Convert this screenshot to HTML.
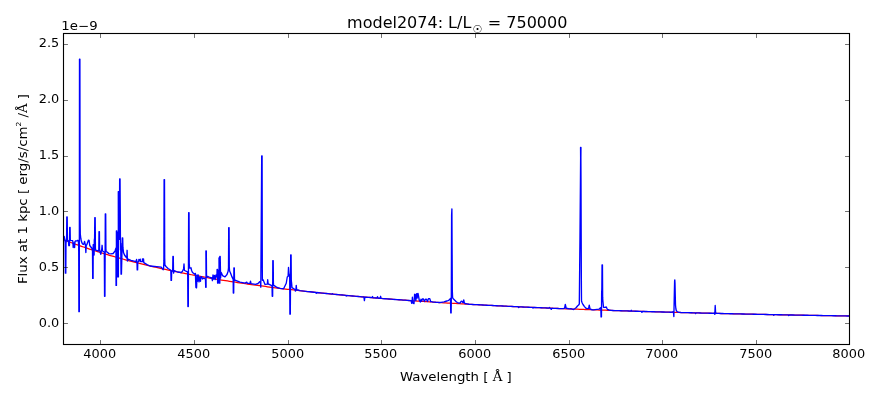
<!DOCTYPE html>
<html><head><meta charset="utf-8"><style>html,body{margin:0;padding:0;background:#fff;width:880px;height:400px;overflow:hidden}svg{display:block;will-change:transform}</style></head>
<body><svg width="880" height="400" viewBox="0 0 880 400">
<rect x="0" y="0" width="880" height="400" fill="#fff"/>
<g clip-path="url(#clip)"><path d="M63.50 239.76 L65.50 240.53 L67.50 241.28 L69.50 242.03 L71.50 242.77 L73.50 243.50 L75.50 244.22 L77.50 244.94 L79.50 245.64 L81.50 246.34 L83.50 247.02 L85.50 247.70 L87.50 248.38 L89.50 249.04 L91.50 249.70 L93.50 250.35 L95.50 250.99 L97.50 251.62 L99.50 252.25 L101.50 252.87 L103.50 253.48 L105.50 254.09 L107.50 254.69 L109.50 255.28 L111.50 255.87 L113.50 256.45 L115.50 257.02 L117.50 257.59 L119.50 258.15 L121.50 258.70 L123.50 259.25 L125.50 259.79 L127.50 260.33 L129.50 260.86 L131.50 261.38 L133.50 261.90 L135.50 262.41 L137.50 262.92 L139.50 263.42 L141.50 263.92 L143.50 264.41 L145.50 264.89 L147.50 265.37 L149.50 265.85 L151.50 266.32 L153.50 266.78 L155.50 267.24 L157.50 267.70 L159.50 268.15 L161.50 268.59 L163.50 269.03 L165.50 269.47 L167.50 269.90 L169.50 270.33 L171.50 270.75 L173.50 271.17 L175.50 271.59 L177.50 271.99 L179.50 272.40 L181.50 272.80 L183.50 273.20 L185.50 273.59 L187.50 273.98 L189.50 274.37 L191.50 274.75 L193.50 275.13 L195.50 275.50 L197.50 275.87 L199.50 276.23 L201.50 276.60 L203.50 276.96 L205.50 277.31 L207.50 277.66 L209.50 278.01 L211.50 278.36 L213.50 278.70 L215.50 279.03 L217.50 279.37 L219.50 279.70 L221.50 280.03 L223.50 280.35 L225.50 280.67 L227.50 280.99 L229.50 281.31 L231.50 281.62 L233.50 281.93 L235.50 282.24 L237.50 282.54 L239.50 282.84 L241.50 283.14 L243.50 283.43 L245.50 283.72 L247.50 284.01 L249.50 284.30 L251.50 284.58 L253.50 284.86 L255.50 285.14 L257.50 285.42 L259.50 285.69 L261.50 285.96 L263.50 286.23 L265.50 286.49 L267.50 286.76 L269.50 287.02 L271.50 287.28 L273.50 287.53 L275.50 287.78 L277.50 288.04 L279.50 288.28 L281.50 288.53 L283.50 288.77 L285.50 289.02 L287.50 289.26 L289.50 289.49 L291.50 289.73 L293.50 289.96 L295.50 290.19 L297.50 290.42 L299.50 290.65 L301.50 290.87 L303.50 291.10 L305.50 291.32 L307.50 291.54 L309.50 291.75 L311.50 291.97 L313.50 292.18 L315.50 292.39 L317.50 292.60 L319.50 292.81 L321.50 293.02 L323.50 293.22 L325.50 293.42 L327.50 293.62 L329.50 293.82 L331.50 294.02 L333.50 294.21 L335.50 294.41 L337.50 294.60 L339.50 294.79 L341.50 294.98 L343.50 295.16 L345.50 295.35 L347.50 295.53 L349.50 295.71 L351.50 295.89 L353.50 296.07 L355.50 296.25 L357.50 296.43 L359.50 296.60 L361.50 296.77 L363.50 296.94 L365.50 297.11 L367.50 297.28 L369.50 297.45 L371.50 297.62 L373.50 297.78 L375.50 297.94 L377.50 298.11 L379.50 298.27 L381.50 298.42 L383.50 298.58 L385.50 298.74 L387.50 298.89 L389.50 299.05 L391.50 299.20 L393.50 299.35 L395.50 299.50 L397.50 299.65 L399.50 299.80 L401.50 299.94 L403.50 300.09 L405.50 300.23 L407.50 300.38 L409.50 300.52 L411.50 300.66 L413.50 300.80 L415.50 300.94 L417.50 301.07 L419.50 301.21 L421.50 301.34 L423.50 301.48 L425.50 301.61 L427.50 301.74 L429.50 301.87 L431.50 302.00 L433.50 302.13 L435.50 302.26 L437.50 302.39 L439.50 302.51 L441.50 302.64 L443.50 302.76 L445.50 302.88 L447.50 303.01 L449.50 303.13 L451.50 303.25 L453.50 303.36 L455.50 303.48 L457.50 303.60 L459.50 303.72 L461.50 303.83 L463.50 303.95 L465.50 304.06 L467.50 304.17 L469.50 304.28 L471.50 304.40 L473.50 304.51 L475.50 304.61 L477.50 304.72 L479.50 304.83 L481.50 304.94 L483.50 305.04 L485.50 305.15 L487.50 305.25 L489.50 305.36 L491.50 305.46 L493.50 305.56 L495.50 305.66 L497.50 305.76 L499.50 305.86 L501.50 305.96 L503.50 306.06 L505.50 306.16 L507.50 306.26 L509.50 306.35 L511.50 306.45 L513.50 306.54 L515.50 306.64 L517.50 306.73 L519.50 306.82 L521.50 306.91 L523.50 307.01 L525.50 307.10 L527.50 307.19 L529.50 307.28 L531.50 307.36 L533.50 307.45 L535.50 307.54 L537.50 307.63 L539.50 307.71 L541.50 307.80 L543.50 307.88 L545.50 307.97 L547.50 308.05 L549.50 308.13 L551.50 308.22 L553.50 308.30 L555.50 308.38 L557.50 308.46 L559.50 308.54 L561.50 308.62 L563.50 308.70 L565.50 308.78 L567.50 308.86 L569.50 308.93 L571.50 309.01 L573.50 309.09 L575.50 309.16 L577.50 309.24 L579.50 309.31 L581.50 309.39 L583.50 309.46 L585.50 309.54 L587.50 309.61 L589.50 309.68 L591.50 309.75 L593.50 309.82 L595.50 309.89 L597.50 309.96 L599.50 310.03 L601.50 310.10 L603.50 310.17 L605.50 310.24 L607.50 310.31 L609.50 310.38 L611.50 310.44 L613.50 310.51 L615.50 310.58 L617.50 310.64 L619.50 310.71 L621.50 310.77 L623.50 310.84 L625.50 310.90 L627.50 310.96 L629.50 311.03 L631.50 311.09 L633.50 311.15 L635.50 311.21 L637.50 311.27 L639.50 311.33 L641.50 311.40 L643.50 311.46 L645.50 311.52 L647.50 311.57 L649.50 311.63 L651.50 311.69 L653.50 311.75 L655.50 311.81 L657.50 311.87 L659.50 311.92 L661.50 311.98 L663.50 312.04 L665.50 312.09 L667.50 312.15 L669.50 312.20 L671.50 312.26 L673.50 312.31 L675.50 312.37 L677.50 312.42 L679.50 312.47 L681.50 312.53 L683.50 312.58 L685.50 312.63 L687.50 312.68 L689.50 312.74 L691.50 312.79 L693.50 312.84 L695.50 312.89 L697.50 312.94 L699.50 312.99 L701.50 313.04 L703.50 313.09 L705.50 313.14 L707.50 313.19 L709.50 313.24 L711.50 313.28 L713.50 313.33 L715.50 313.38 L717.50 313.43 L719.50 313.47 L721.50 313.52 L723.50 313.57 L725.50 313.61 L727.50 313.66 L729.50 313.70 L731.50 313.75 L733.50 313.80 L735.50 313.84 L737.50 313.88 L739.50 313.93 L741.50 313.97 L743.50 314.02 L745.50 314.06 L747.50 314.10 L749.50 314.15 L751.50 314.19 L753.50 314.23 L755.50 314.27 L757.50 314.31 L759.50 314.36 L761.50 314.40 L763.50 314.44 L765.50 314.48 L767.50 314.52 L769.50 314.56 L771.50 314.60 L773.50 314.64 L775.50 314.68 L777.50 314.72 L779.50 314.76 L781.50 314.80 L783.50 314.84 L785.50 314.87 L787.50 314.91 L789.50 314.95 L791.50 314.99 L793.50 315.03 L795.50 315.06 L797.50 315.10 L799.50 315.14 L801.50 315.17 L803.50 315.21 L805.50 315.25 L807.50 315.28 L809.50 315.32 L811.50 315.35 L813.50 315.39 L815.50 315.43 L817.50 315.46 L819.50 315.50 L821.50 315.53 L823.50 315.56 L825.50 315.60 L827.50 315.63 L829.50 315.67 L831.50 315.70 L833.50 315.73 L835.50 315.77 L837.50 315.80 L839.50 315.83 L841.50 315.86 L843.50 315.90 L845.50 315.93 L847.50 315.96 L849.50 315.99" fill="none" stroke="#f00" stroke-width="1.25" stroke-linejoin="round"/><path d="M63.50 240.20 L64.20 236.50 L64.90 240.20 L65.20 242.88 L65.40 273.15 L65.80 273.15 L66.00 243.62 L66.30 241.00 L66.60 239.03 L66.80 217.00 L67.20 217.00 L67.40 239.03 L67.60 241.00 L68.40 240.80 L68.80 245.60 L69.40 245.60 L69.50 244.10 L69.70 227.50 L70.10 227.50 L70.30 239.32 L70.40 240.40 L72.50 240.60 L72.80 241.15 L73.20 247.50 L74.00 243.00 L74.60 247.50 L75.00 241.52 L75.50 241.00 L77.00 240.80 L77.90 240.30 L78.40 241.50 L78.70 247.16 L78.90 311.65 L79.30 311.65 L79.50 59.10 L79.90 59.10 L80.10 219.96 L80.30 234.00 L80.80 238.50 L81.40 241.30 L82.10 243.20 L82.60 244.00 L83.80 244.40 L84.55 241.40 L85.20 244.00 L85.45 244.68 L85.85 252.50 L86.25 245.32 L86.80 244.70 L88.50 240.10 L89.10 240.30 L89.75 245.50 L92.00 248.50 L92.50 250.94 L92.70 278.40 L93.10 278.40 L93.20 244.60 L93.60 244.60 L93.70 255.00 L94.10 255.00 L94.30 240.00 L94.60 238.16 L94.80 217.60 L95.20 217.60 L95.40 247.54 L95.60 250.20 L98.50 251.00 L98.80 249.40 L99.00 231.60 L99.40 231.60 L99.60 249.86 L99.90 251.50 L100.80 254.40 L101.50 250.00 L101.70 249.62 L102.10 245.30 L102.50 251.00 L103.40 251.50 L104.20 252.00 L104.35 255.59 L104.55 296.30 L104.95 296.30 L105.30 213.85 L105.70 213.85 L105.90 248.53 L106.10 251.60 L106.70 251.80 L109.00 253.60 L111.00 253.90 L113.10 253.50 L114.50 251.80 L115.20 250.50 L116.00 248.00 L116.05 285.40 L116.45 285.40 L116.40 230.90 L116.80 230.90 L117.00 276.90 L117.40 276.90 L117.50 232.60 L117.90 232.60 L118.00 276.90 L118.40 276.90 L118.30 191.60 L118.70 191.60 L119.00 239.40 L119.40 239.40 L119.65 178.85 L120.05 178.85 L120.50 250.00 L120.70 243.30 L121.05 274.15 L121.45 274.15 L122.30 237.80 L122.70 237.80 L122.90 247.14 L123.00 248.00 L123.50 252.50 L124.50 255.00 L126.00 257.00 L126.80 258.00 L127.10 250.30 L127.40 261.10 L128.10 259.20 L131.00 260.30 L136.00 261.70 L136.60 259.50 L137.00 262.00 L137.20 269.90 L137.60 269.90 L137.80 262.00 L138.70 261.50 L138.90 259.40 L139.60 260.80 L140.20 259.20 L140.50 261.50 L142.30 261.70 L142.50 258.90 L143.50 258.90 L143.80 262.60 L147.00 264.60 L150.00 266.00 L161.25 267.20 L163.10 269.70 L163.60 268.00 L163.90 260.88 L164.10 179.60 L164.50 179.60 L164.70 258.12 L164.90 265.00 L166.00 266.50 L168.00 268.50 L170.60 270.00 L170.85 270.88 L171.05 280.40 L171.45 280.40 L171.65 271.80 L172.20 271.00 L172.70 269.79 L172.90 256.50 L173.30 256.50 L173.50 271.72 L173.60 273.10 L174.20 270.60 L177.50 272.00 L181.25 272.50 L182.50 271.25 L183.50 269.00 L183.60 268.60 L184.00 264.00 L184.40 269.98 L184.60 270.50 L187.50 271.90 L187.70 274.72 L187.90 306.50 L188.30 306.50 L188.65 212.70 L189.05 212.70 L189.25 263.53 L189.60 268.00 L191.00 267.80 L191.60 270.50 L192.50 272.50 L195.00 274.40 L195.40 273.40 L195.90 287.50 L196.50 287.90 L196.60 286.87 L197.00 275.00 L197.50 281.25 L198.20 275.00 L199.00 281.90 L199.80 277.00 L200.50 281.25 L200.90 276.97 L201.50 276.60 L202.50 279.00 L203.50 278.00 L205.30 279.00 L205.50 279.71 L205.70 287.30 L206.10 287.30 L205.90 250.90 L206.30 250.90 L206.50 274.86 L206.70 277.00 L208.00 276.50 L210.00 277.50 L211.90 278.00 L212.40 280.60 L213.00 275.00 L213.80 279.00 L214.50 275.50 L215.30 279.50 L216.00 275.00 L216.90 277.00 L217.10 269.35 L217.50 269.35 L217.60 283.15 L218.00 283.15 L218.20 270.60 L218.60 270.60 L218.70 282.40 L219.10 282.40 L219.00 257.80 L219.40 257.80 L219.40 283.15 L219.80 283.15 L219.80 256.50 L220.20 256.50 L220.60 278.00 L221.00 272.94 L221.25 272.50 L222.50 275.60 L225.00 276.90 L227.00 274.50 L228.10 271.25 L228.50 267.72 L228.70 227.70 L229.10 227.70 L229.30 267.49 L229.60 271.00 L230.50 273.00 L232.00 276.90 L233.20 279.40 L233.30 293.00 L233.70 293.00 L233.90 267.80 L234.30 267.80 L234.50 278.98 L234.60 280.00 L236.25 280.60 L240.00 282.20 L245.00 283.10 L246.75 282.20 L247.50 283.30 L250.00 283.40 L250.50 281.25 L251.00 283.60 L255.50 284.40 L258.00 283.50 L259.90 281.60 L260.40 282.05 L260.80 287.20 L261.70 155.85 L262.10 155.85 L262.30 270.30 L262.40 280.30 L263.10 279.80 L263.60 281.00 L265.00 284.40 L267.30 284.20 L267.70 279.70 L268.10 283.66 L268.20 284.00 L269.25 284.40 L271.75 285.60 L272.05 286.50 L272.25 296.20 L272.65 296.20 L272.80 260.60 L273.20 260.60 L273.40 283.18 L273.60 285.20 L274.25 285.60 L277.00 287.50 L280.00 288.40 L283.60 288.75 L286.25 283.25 L287.25 277.00 L288.10 276.24 L288.50 267.50 L288.90 273.48 L289.10 274.00 L289.70 277.26 L289.90 314.15 L290.30 314.15 L290.70 254.85 L291.10 254.85 L291.30 280.70 L291.60 283.00 L292.00 287.60 L295.00 289.50 L295.40 291.10 L295.85 290.64 L296.25 285.40 L296.65 289.45 L296.80 289.80 L298.00 290.00 L299.97 290.70 L301.94 290.92 L303.92 291.14 L305.89 291.36 L307.86 291.58 L309.83 291.79 L311.81 292.00 L313.78 292.21 L315.75 292.42 L316.25 293.30 L316.75 292.52 L318.66 292.72 L320.56 292.92 L322.47 293.11 L324.38 293.31 L326.28 293.50 L328.19 293.69 L330.09 293.88 L332.00 294.07 L332.50 293.60 L333.00 294.16 L334.82 294.34 L336.64 294.52 L338.46 294.69 L340.29 294.86 L342.11 295.03 L343.93 295.20 L345.75 295.37 L346.25 296.00 L346.75 295.46 L348.66 295.64 L350.56 295.81 L352.47 295.98 L354.37 296.15 L356.28 296.32 L358.18 296.49 L360.09 296.65 L361.99 296.82 L363.90 296.98 L364.40 300.60 L364.90 297.06 L366.67 297.21 L368.45 297.36 L370.23 297.51 L372.00 297.66 L372.50 296.50 L373.00 297.74 L374.33 297.85 L375.67 297.96 L377.00 298.06 L377.50 296.60 L378.00 298.15 L379.05 298.23 L380.10 298.31 L380.60 296.30 L381.10 298.39 L383.09 298.55 L385.09 298.71 L387.08 298.86 L389.07 299.01 L391.07 299.17 L393.06 299.32 L395.05 299.47 L397.05 299.62 L399.04 299.76 L401.03 299.91 L403.03 300.05 L405.02 300.20 L407.01 300.34 L409.01 300.48 L411.00 300.60 L411.75 303.30 L412.00 302.81 L412.40 297.20 L412.80 302.81 L413.30 303.30 L414.00 303.50 L414.60 294.30 L415.20 294.50 L415.40 294.99 L415.80 300.60 L416.70 293.60 L417.20 298.00 L417.60 293.77 L418.00 293.40 L418.50 296.00 L419.30 300.40 L420.30 302.00 L421.00 299.30 L421.70 301.20 L422.30 299.00 L423.50 299.00 L424.40 301.50 L425.50 299.20 L426.40 299.20 L427.50 301.50 L428.40 298.60 L429.80 298.60 L430.70 301.70 L431.50 301.60 L433.00 302.10 L434.50 302.20 L436.00 302.29 L437.50 302.30 L439.25 302.50 L441.00 302.30 L444.00 301.90 L446.00 301.25 L448.00 300.60 L449.50 299.75 L450.50 298.50 L450.75 312.90 L451.15 312.90 L451.30 300.00 L451.60 215.00 L451.90 208.90 L452.30 290.00 L452.60 297.50 L453.00 298.50 L454.50 300.00 L456.00 301.50 L457.30 302.50 L458.50 303.00 L460.00 303.10 L461.00 301.50 L462.00 301.25 L462.70 302.50 L463.20 302.50 L463.75 300.00 L464.30 302.70 L465.00 303.50 L467.00 303.80 L468.97 304.25 L470.94 304.36 L472.91 304.47 L474.88 304.58 L476.86 304.69 L478.83 304.79 L480.80 304.90 L482.77 305.00 L484.74 305.11 L486.71 305.21 L488.68 305.31 L490.65 305.42 L492.62 305.52 L494.60 305.62 L496.57 305.72 L498.54 305.82 L500.51 305.91 L502.48 306.01 L504.45 306.11 L506.42 306.20 L508.39 306.30 L510.37 306.39 L512.34 306.49 L514.31 306.58 L516.28 306.67 L518.25 306.76 L518.75 307.50 L519.25 306.81 L521.14 306.90 L523.04 306.98 L524.93 307.07 L526.82 307.16 L528.71 307.24 L530.61 307.33 L532.50 307.41 L533.00 308.10 L533.50 307.45 L535.41 307.54 L537.33 307.62 L539.24 307.70 L541.15 307.78 L543.06 307.87 L544.97 307.95 L546.89 308.03 L548.80 308.11 L549.40 307.50 L550.30 308.20 L551.25 309.40 L551.80 308.23 L553.75 308.31 L555.70 308.39 L557.65 308.47 L559.60 308.55 L561.55 308.62 L563.50 308.60 L564.60 308.20 L565.30 304.50 L566.20 308.25 L567.50 308.50 L569.25 308.93 L571.00 308.70 L572.25 309.04 L573.50 309.50 L575.00 308.50 L576.30 307.50 L577.50 306.00 L578.60 305.00 L579.30 304.00 L579.45 290.00 L579.65 270.00 L579.95 240.00 L580.20 210.00 L580.45 180.00 L580.62 158.00 L580.55 147.45 L580.95 147.45 L580.88 158.00 L581.00 180.00 L581.10 210.00 L581.20 240.00 L581.30 270.00 L581.42 290.00 L581.50 301.00 L582.20 303.00 L583.00 304.50 L584.50 306.60 L586.00 308.25 L587.50 308.70 L588.60 308.30 L589.25 305.25 L590.00 308.80 L591.00 309.50 L592.33 309.78 L593.67 309.83 L595.00 309.60 L599.00 309.20 L600.50 307.75 L600.85 308.53 L601.05 316.90 L601.45 316.90 L601.65 292.20 L601.80 290.00 L601.85 287.94 L602.05 264.85 L602.45 264.85 L602.65 297.14 L602.80 300.00 L603.50 307.30 L605.20 307.30 L606.25 306.90 L607.00 308.60 L607.50 309.40 L609.00 310.00 L610.98 310.43 L612.95 310.49 L614.93 310.56 L616.91 310.62 L618.89 310.69 L620.86 310.75 L622.84 310.81 L624.82 310.88 L626.80 310.94 L628.77 311.00 L630.75 311.06 L631.25 310.30 L631.75 311.10 L633.68 311.16 L635.61 311.22 L637.54 311.27 L639.47 311.33 L641.40 311.39 L641.90 312.30 L642.40 311.42 L644.34 311.48 L646.28 311.54 L648.22 311.60 L650.16 311.65 L652.10 311.71 L654.04 311.77 L655.98 311.82 L657.92 311.88 L659.86 311.93 L661.80 311.99 L663.74 312.04 L665.68 312.10 L667.62 312.15 L669.56 312.20 L671.50 312.20 L672.80 311.80 L673.45 312.18 L673.85 316.50 L674.10 305.00 L674.40 290.00 L674.62 281.00 L674.80 279.85 L675.00 283.00 L675.25 295.00 L675.50 305.00 L675.90 309.00 L676.40 310.80 L677.50 311.90 L679.00 312.40 L680.79 312.51 L682.58 312.55 L684.37 312.60 L686.16 312.65 L687.94 312.70 L689.73 312.74 L691.52 312.79 L693.31 312.83 L695.10 312.88 L695.60 313.60 L696.10 312.90 L698.04 312.95 L699.99 313.00 L701.93 313.05 L703.88 313.10 L705.82 313.15 L707.77 313.19 L709.71 313.24 L711.66 313.29 L713.60 313.33 L714.40 312.80 L714.80 314.40 L715.20 305.50 L715.60 312.22 L715.80 312.80 L716.50 313.40 L718.46 313.45 L720.41 313.50 L722.37 313.54 L724.33 313.59 L726.28 313.63 L728.24 313.68 L730.20 313.72 L732.16 313.76 L734.11 313.81 L736.07 313.85 L738.03 313.90 L739.98 313.94 L741.94 313.98 L743.90 314.02 L745.85 314.07 L747.81 314.11 L749.77 314.15 L751.72 314.19 L753.68 314.23 L755.64 314.28 L757.59 314.32 L759.55 314.36 L761.51 314.40 L763.47 314.44 L765.42 314.48 L767.38 314.52 L769.34 314.56 L771.29 314.60 L773.25 314.64 L773.75 315.40 L774.25 314.66 L776.00 314.69 L777.75 314.72 L779.50 314.76 L781.25 314.79 L783.00 314.83 L784.75 314.86 L786.50 314.89 L788.25 314.93 L788.75 315.50 L789.25 314.95 L791.25 314.98 L793.25 315.02 L795.25 315.06 L797.25 315.10 L799.25 315.13 L801.25 315.17 L803.25 315.21 L805.25 315.24 L807.25 315.28 L809.25 315.31 L811.25 315.35 L813.25 315.39 L815.25 315.42 L817.25 315.46 L819.25 315.49 L821.25 315.53 L823.25 315.56 L825.25 315.59 L827.25 315.63 L829.25 315.66 L831.25 315.70 L833.25 315.73 L835.25 315.76 L837.25 315.80 L839.25 315.83 L841.25 315.86 L843.25 315.89 L845.25 315.93 L847.25 315.96 L849.25 315.99 L850.00 316.00" fill="none" stroke="#00f" stroke-width="1.35" stroke-linejoin="round" stroke-linecap="square"/></g>
<defs><clipPath id="clip"><rect x="63.5" y="33.5" width="786.0" height="311.0"/></clipPath></defs>
<rect x="63.5" y="33.5" width="786.0" height="311.0" fill="none" stroke="#000" stroke-width="1.11"/>
<path d="M100.5 344.5v-4.44M100.5 33.5v4.44M194.5 344.5v-4.44M194.5 33.5v4.44M288.5 344.5v-4.44M288.5 33.5v4.44M381.5 344.5v-4.44M381.5 33.5v4.44M475.5 344.5v-4.44M475.5 33.5v4.44M569.5 344.5v-4.44M569.5 33.5v4.44M662.5 344.5v-4.44M662.5 33.5v4.44M756.5 344.5v-4.44M756.5 33.5v4.44M849.5 344.5v-4.44M849.5 33.5v4.44M63.5 323.5h4.44M849.5 323.5h-4.44M63.5 267.5h4.44M849.5 267.5h-4.44M63.5 211.5h4.44M849.5 211.5h-4.44M63.5 156.5h4.44M849.5 156.5h-4.44M63.5 100.5h4.44M849.5 100.5h-4.44M63.5 44.5h4.44M849.5 44.5h-4.44" stroke="#000" stroke-width="0.56" fill="none"/>
<g fill="#000">
<text transform="translate(99.7 358.1) scale(1 0.91)" text-anchor="middle" style="font-family:'DejaVu Sans',sans-serif;font-size:12.9px">4000</text>
<text transform="translate(193.7 358.1) scale(1 0.91)" text-anchor="middle" style="font-family:'DejaVu Sans',sans-serif;font-size:12.9px">4500</text>
<text transform="translate(287.7 358.1) scale(1 0.91)" text-anchor="middle" style="font-family:'DejaVu Sans',sans-serif;font-size:12.9px">5000</text>
<text transform="translate(380.7 358.1) scale(1 0.91)" text-anchor="middle" style="font-family:'DejaVu Sans',sans-serif;font-size:12.9px">5500</text>
<text transform="translate(474.7 358.1) scale(1 0.91)" text-anchor="middle" style="font-family:'DejaVu Sans',sans-serif;font-size:12.9px">6000</text>
<text transform="translate(568.7 358.1) scale(1 0.91)" text-anchor="middle" style="font-family:'DejaVu Sans',sans-serif;font-size:12.9px">6500</text>
<text transform="translate(661.7 358.1) scale(1 0.91)" text-anchor="middle" style="font-family:'DejaVu Sans',sans-serif;font-size:12.9px">7000</text>
<text transform="translate(755.7 358.1) scale(1 0.91)" text-anchor="middle" style="font-family:'DejaVu Sans',sans-serif;font-size:12.9px">7500</text>
<text transform="translate(848.7 358.1) scale(1 0.91)" text-anchor="middle" style="font-family:'DejaVu Sans',sans-serif;font-size:12.9px">8000</text>
<text transform="translate(59.2 326.8) scale(1 0.91)" text-anchor="end" style="font-family:'DejaVu Sans',sans-serif;font-size:12.9px">0.0</text>
<text transform="translate(59.2 271) scale(1 0.91)" text-anchor="end" style="font-family:'DejaVu Sans',sans-serif;font-size:12.9px">0.5</text>
<text transform="translate(59.2 215) scale(1 0.91)" text-anchor="end" style="font-family:'DejaVu Sans',sans-serif;font-size:12.9px">1.0</text>
<text transform="translate(59.2 159) scale(1 0.91)" text-anchor="end" style="font-family:'DejaVu Sans',sans-serif;font-size:12.9px">1.5</text>
<text transform="translate(59.2 103.1) scale(1 0.91)" text-anchor="end" style="font-family:'DejaVu Sans',sans-serif;font-size:12.9px">2.0</text>
<text transform="translate(59.2 47) scale(1 0.91)" text-anchor="end" style="font-family:'DejaVu Sans',sans-serif;font-size:12.9px">2.5</text>
<text transform="translate(61.3 29.8) scale(1 0.91)" text-anchor="start" style="font-family:'DejaVu Sans',sans-serif;font-size:13.333px">1e−9</text>
</g>
<text transform="translate(400 380.7) scale(1 0.91)" text-anchor="start" style="font-family:'DejaVu Sans',sans-serif;font-size:13.333px">Wavelength [ <tspan style="font-family:'DejaVu Serif',serif">Å</tspan> ]</text>
<text style="font-family:'DejaVu Sans',sans-serif;font-size:13.333px" transform="translate(26.6 189) rotate(-90) scale(1 0.91)" text-anchor="middle">Flux at 1 kpc [ erg/s/cm<tspan dy="-6" style="font-size:7.6px">2</tspan><tspan dy="6"> /</tspan><tspan style="font-family:'DejaVu Serif',serif">Å</tspan> ]</text>
<g style="font-family:'DejaVu Sans',sans-serif" fill="#000"><text style="font-size:16px" x="347.1" y="28.1">model2074: L/L</text><text style="font-size:11px" x="472.4" y="32.9">☉</text><text style="font-size:16px" x="487.7" y="28.1">=</text><text style="font-size:16px" x="506.3" y="28.1">750000</text></g>
</svg></body></html>
